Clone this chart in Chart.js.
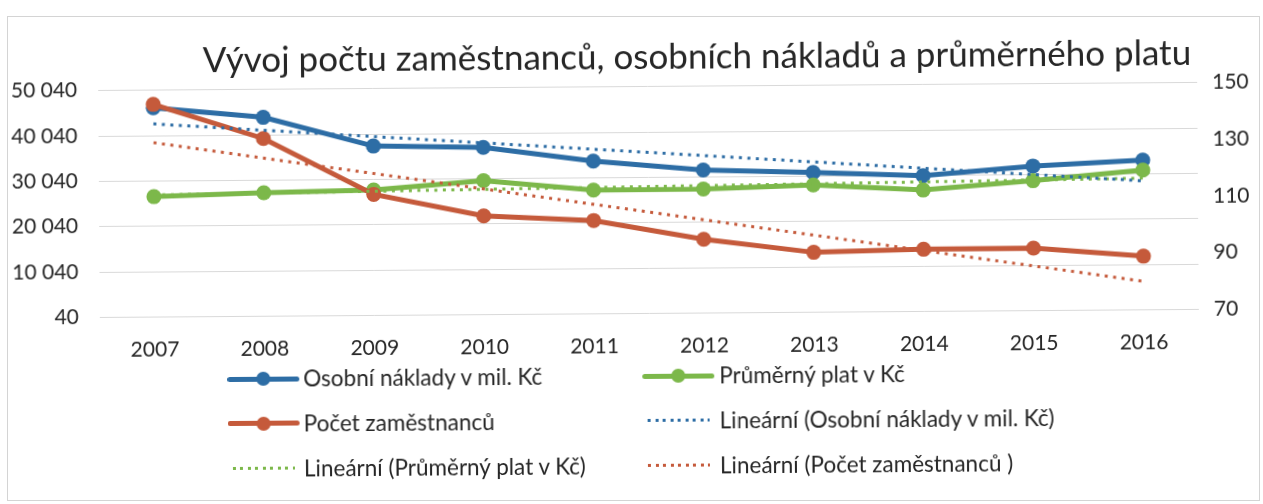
<!DOCTYPE html>
<html>
<head>
<meta charset="utf-8">
<script src="https://cdn.jsdelivr.net/npm/chart.js@4.4.0/dist/chart.umd.min.js"></script>
<style>
  html, body { margin: 0; padding: 0; background: #ffffff; }
  body { width: 1263px; height: 504px; overflow: hidden; position: relative; font-family: Lato, "DejaVu Sans", sans-serif; }
  #frame { position: absolute; left: 7px; top: 16px; width: 1253px; height: 485px; border: 1px solid #d4d4d4; box-sizing: border-box; }
  #wrap { position: absolute; left: 0; top: 0; width: 1263px; height: 504px; transform: rotate(-0.42deg); transform-origin: 640px 200px; }
  #c { position: absolute; left: 0; top: 0; }
  #title { position: absolute; left: 698px; top: 38px; transform: translateX(-50%); white-space: nowrap; font-size: 35px; line-height: 35px; color: #262626; }
  .sym { position: absolute; height: 16px; width: 72px; }
  .sym .ln { position: absolute; left: 0; right: 0; top: 5.5px; height: 5px; border-radius: 3px; }
  .sym .pt { position: absolute; left: 29px; top: 1px; width: 14px; height: 14px; border-radius: 50%; }
  .sym .dot { position: absolute; left: 5px; width: 62px; top: 6.5px; height: 3px; }
  .lab { position: absolute; font-size: 22.5px; line-height: 26px; color: #262626; white-space: pre; }
</style>
</head>
<body>
<div id="frame"></div>
<div id="wrap">
  <canvas id="c" width="1263" height="504"></canvas>
  <div id="title"></div>
  <div id="legend"></div>
</div>
<script>
// ---- data ----
const titleText = "Vývoj počtu zaměstnanců, osobních nákladů a průměrného platu";
const years = ["2007","2008","2009","2010","2011","2012","2013","2014","2015","2016"];
const osobniNaklady = [46180, 43890, 37380, 36920, 33720, 31560, 30830, 29950, 31910, 33060];
const prumernyPlat  = [26570, 27260, 27680, 29570, 27320, 27370, 28070, 26790, 28670, 30850];
const pocetZam      = [145.0, 132.7, 112.7, 104.8, 102.9, 96.0, 91.1, 91.9, 92.0, 88.9];
// linear trend lines: values read at first and last category
const trendNaklady = [42620, null, null, null, null, null, null, null, null, 28460];
const trendPlat    = [26950, null, null, null, null, null, null, null, null, 29050];
const trendPocet   = [131.5, null, null, null, null, null, null, null, null, 80.0];
const leftTickLabels  = ["40", "10 040", "20 040", "30 040", "40 040", "50 040"];
const rightTickLabels = ["70", "90", "110", "130", "150"];
const seriesNames = ["Osobní náklady v mil. Kč", "Průměrný plat v Kč", "Počet zaměstnanců",
  "Lineární (Osobní náklady v mil. Kč)", "Lineární (Průměrný plat v Kč)", "Lineární (Počet zaměstnanců )"];

const BLUE = "#2d6da5", GREEN = "#7cb84a", RED = "#c55a3b";
const FONT = "Lato, 'DejaVu Sans', sans-serif";

document.getElementById("title").textContent = titleText;

function solid(name, data, color, axis, order) {
  return { label: name, data, yAxisID: axis, order,
    borderColor: color, backgroundColor: color, borderWidth: 5,
    pointRadius: 7.5, pointHoverRadius: 7.5, pointBackgroundColor: color, pointBorderColor: color, pointBorderWidth: 0,
    tension: 0, fill: false };
}
function trend(name, data, color, axis, order) {
  return { label: name, data, yAxisID: axis, order,
    borderColor: color, backgroundColor: color, borderWidth: 3, borderDash: [3, 5.5],
    pointRadius: 0, pointHoverRadius: 0, spanGaps: true, tension: 0, fill: false };
}

new Chart(document.getElementById("c"), {
  type: "line",
  data: {
    labels: years,
    datasets: [
      solid(seriesNames[0], osobniNaklady, BLUE, "y", 4),
      solid(seriesNames[1], prumernyPlat, GREEN, "y", 3),
      solid(seriesNames[2], pocetZam, RED, "y1", 2),
      trend(seriesNames[3], trendNaklady, BLUE, "y", 1),
      trend(seriesNames[4], trendPlat, GREEN, "y", 1),
      trend(seriesNames[5], trendPocet, RED, "y1", 1)
    ]
  },
  options: {
    responsive: false,
    animation: false,
    events: [],
    layout: { padding: { left: 10, right: 5, top: 86.7, bottom: 0 } },
    plugins: { legend: { display: false }, title: { display: false }, tooltip: { enabled: false } },
    scales: {
      x: {
        type: "category", offset: true,
        grid: { display: false, drawTicks: false }, border: { display: false },
        ticks: { font: { family: FONT, size: 21 }, color: "#262626", padding: 20, maxRotation: 0, autoSkip: false },
        afterFit: s => { s.height = 504 - 313.4; }
      },
      y: {
        position: "left", min: 40, max: 50040,
        grid: { color: "#d9d9d9", lineWidth: 1, drawTicks: false }, border: { display: false },
        ticks: { stepSize: 10000, font: { family: FONT, size: 21 }, color: "#262626", padding: 21,
                 callback: (v, i) => leftTickLabels[i] },
        afterFit: s => { s.width = 89; }
      },
      y1: {
        position: "right", min: 70, max: 150,
        grid: { drawOnChartArea: false, drawTicks: false }, border: { display: false },
        ticks: { stepSize: 20, font: { family: FONT, size: 21 }, color: "#262626", padding: 15,
                 callback: (v, i) => rightTickLabels[i] },
        afterFit: s => { s.width = 60; }
      }
    }
  }
});

// ---- HTML legend (2 columns x 3 rows) ----
const legendItems = [
  { name: seriesNames[0], color: BLUE,  kind: "solid", col: 0, row: 0 },
  { name: seriesNames[1], color: GREEN, kind: "solid", col: 1, row: 0 },
  { name: seriesNames[2], color: RED,   kind: "solid", col: 0, row: 1 },
  { name: seriesNames[3], color: BLUE,  kind: "dot",   col: 1, row: 1 },
  { name: seriesNames[4], color: GREEN, kind: "dot",   col: 0, row: 2 },
  { name: seriesNames[5], color: RED,   kind: "dot",   col: 1, row: 2 }
];
const colSym = [226, 641], colText = [302, 718], rowY = [376, 420.5, 465.5];
const lg = document.getElementById("legend");
legendItems.forEach(it => {
  const s = document.createElement("div");
  s.className = "sym";
  s.style.left = colSym[it.col] + "px";
  s.style.top = (rowY[it.row] - 8) + "px";
  if (it.kind === "solid") {
    s.innerHTML = '<div class="ln" style="background:' + it.color + '"></div><div class="pt" style="background:' + it.color + '"></div>';
  } else {
    s.innerHTML = '<div class="dot" style="background:repeating-linear-gradient(90deg,' + it.color + ' 0 3px, transparent 3px 7.5px)"></div>';
  }
  lg.appendChild(s);
  const t = document.createElement("div");
  t.className = "lab";
  t.textContent = it.name;
  t.style.left = colText[it.col] + "px";
  t.style.top = (rowY[it.row] - 13) + "px";
  lg.appendChild(t);
});
</script>
</body>
</html>
